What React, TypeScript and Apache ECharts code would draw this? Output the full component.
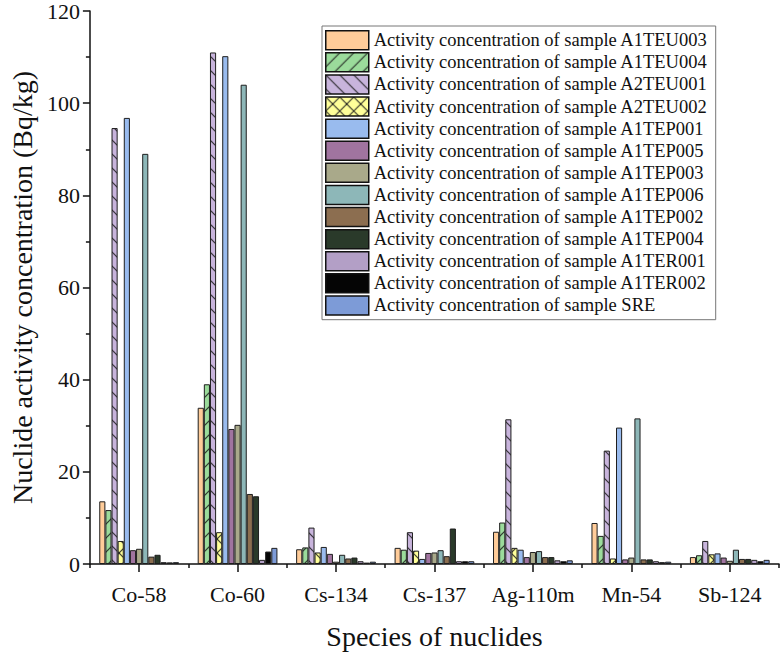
import React, { useEffect, useRef } from "react";
import * as echarts from "echarts";

const nuclides = ["Co-58", "Co-60", "Cs-134", "Cs-137", "Ag-110m", "Mn-54", "Sb-124"];

const sampleNames = [
  "A1TEU003", "A1TEU004", "A2TEU001", "A2TEU002", "A1TEP001", "A1TEP005", "A1TEP003",
  "A1TEP006", "A1TEP002", "A1TEP004", "A1TER001", "A1TER002", "SRE",
];

const A1TEU003 = [13.6, 33.9, 3.2, 3.5, 7.0, 8.9, 1.5];
const A1TEU004 = [11.7, 39.0, 3.6, 3.1, 9.0, 6.1, 1.9];
const A2TEU001 = [94.6, 111.0, 7.9, 6.9, 31.4, 24.6, 5.0];
const A2TEU002 = [5.0, 6.9, 2.5, 2.9, 3.5, 1.2, 2.1];
const A1TEP001 = [96.8, 110.2, 3.7, 1.1, 3.1, 29.6, 2.3];
const A1TEP005 = [3.0, 29.3, 2.2, 2.4, 1.5, 1.0, 1.4];
const A1TEP003 = [3.3, 30.2, 0.5, 2.5, 2.6, 1.4, 0.7];
const A1TEP006 = [89.0, 104.0, 2.0, 3.0, 2.8, 31.6, 3.1];
const A1TEP002 = [1.6, 15.2, 1.2, 1.7, 1.5, 1.0, 1.1];
const A1TEP004 = [2.0, 14.7, 1.4, 7.7, 1.5, 1.0, 1.1];
const A1TER001 = [0.4, 0.9, 0.6, 0.6, 0.8, 0.6, 0.9];
const A1TER002 = [0.35, 2.7, 0.3, 0.6, 0.6, 0.4, 0.6];
const SRE = [0.4, 3.5, 0.5, 0.6, 0.8, 0.5, 0.9];

const sampleValues = [
  A1TEU003, A1TEU004, A2TEU001, A2TEU002, A1TEP001, A1TEP005, A1TEP003,
  A1TEP006, A1TEP002, A1TEP004, A1TER001, A1TER002, SRE,
];

const yTicks = [0, 20, 40, 60, 80, 100, 120];

const colors = [
  "#FFCC99", "#9BDB9B", "#C8B4DC", "#FFFF99", "#99BBEE", "#A0749F", "#A9A98A",
  "#8DB7B8", "#8C6E50", "#2A3A2A", "#B39FC6", "#050505", "#7D9BD7",
];

// hatch type per sample: "" none, "/" forward, "\\" backward, "x" cross
const hatches = ["", "/", "\\", "x", "", "", "", "", "", "", "", "", ""];

const FONT = "'Liberation Serif', 'Times New Roman', serif";

function makePattern(bg: string, kind: string): any {
  const T = 14;
  const S = 3;
  const c = document.createElement("canvas");
  c.width = T * S;
  c.height = T * S;
  const ctx = c.getContext("2d")!;
  ctx.scale(S, S);
  ctx.fillStyle = bg;
  ctx.fillRect(0, 0, T, T);
  ctx.strokeStyle = "#1a1a1a";
  ctx.lineWidth = 1;
  const fwd = () => {
    for (const k of [0, T, 2 * T]) {
      ctx.beginPath();
      ctx.moveTo(k - T - 2, T + 2);
      ctx.lineTo(k + 2, -2);
      ctx.stroke();
    }
  };
  const back = () => {
    for (const k of [-T, 0, T]) {
      ctx.beginPath();
      ctx.moveTo(k - 2, -2);
      ctx.lineTo(k + T + 2, T + 2);
      ctx.stroke();
    }
  };
  if (kind === "/") fwd();
  if (kind === "\\") back();
  if (kind === "x") {
    fwd();
    back();
  }
  return { image: c, repeat: "repeat", imageWidth: T, imageHeight: T };
}

export default function App() {
  const ref = useRef<HTMLDivElement>(null);
  useEffect(() => {
    if (!ref.current) return;
    const chart = echarts.init(ref.current, null, { renderer: "svg" });
    const series = sampleNames.map((s, i) => {
      const fill = hatches[i] ? makePattern(colors[i], hatches[i]) : colors[i];
      return {
        name: "Activity concentration of sample " + s,
        type: "bar",
        xAxisIndex: 0,
        data: sampleValues[i],
        barGap: "0%",
        barCategoryGap: "19%",
        itemStyle: { color: fill, borderColor: "#1e1e1e", borderWidth: 1 },
      };
    });
    chart.setOption({
      animation: false,
      backgroundColor: "#ffffff",
      grid: { left: 88, right: 3, top: 11, bottom: 90, containLabel: false },
      legend: {
        orient: "vertical",
        left: 322,
        top: 26,
        padding: [4, 8, 4, 3],
        itemWidth: 43,
        itemHeight: 19,
        itemGap: 1.6,
        borderColor: "#777",
        borderWidth: 1,
        backgroundColor: "#fff",
        icon: "rect",
        itemStyle: { borderColor: "#111", borderWidth: 1.5 },
        textStyle: { fontFamily: FONT, fontSize: 18.5, color: "#111", padding: [0, 0, 0, 0] },
        data: sampleNames.map((s) => "Activity concentration of sample " + s),
      },
      xAxis: [
        {
          type: "category",
          data: nuclides,
          position: "bottom",
          name: "Species of nuclides",
          nameLocation: "middle",
          nameGap: 58,
          nameTextStyle: { fontFamily: FONT, fontSize: 28, color: "#111" },
          axisLine: { show: true, lineStyle: { color: "#111", width: 1.5 } },
          axisTick: { show: true, alignWithLabel: true, interval: 0, length: 8, lineStyle: { color: "#111", width: 1.5 } },
          axisLabel: { fontFamily: FONT, fontSize: 22, color: "#111", margin: 19, interval: 0 },
          splitLine: { show: false },
        },
        {
          type: "category",
          data: nuclides,
          position: "bottom",
          axisLine: { show: false },
          axisTick: { show: true, interval: 0, length: 4, lineStyle: { color: "#111", width: 1.5 } },
          axisLabel: { show: false, interval: 0 },
          splitLine: { show: false },
        },
      ],
      yAxis: {
        type: "value",
        min: yTicks[0],
        max: yTicks[yTicks.length - 1],
        interval: 20,
        name: "Nuclide activity concentration (Bq/kg)",
        nameLocation: "middle",
        nameGap: 51,
        nameTextStyle: { fontFamily: FONT, fontSize: 28, color: "#111" },
        axisLine: { show: true, lineStyle: { color: "#111", width: 1.5 } },
        axisTick: { show: true, length: 7, lineStyle: { color: "#111", width: 1.5 } },
        minorTick: { show: true, splitNumber: 2, length: 4, lineStyle: { color: "#111", width: 1.5 } },
        axisLabel: { fontFamily: FONT, fontSize: 22, color: "#111", margin: 10 },
        splitLine: { show: false },
      },
      series,
    });
    return () => chart.dispose();
  }, []);
  return (
    <div
      ref={ref}
      style={{ position: "absolute", left: 0, top: 0, width: 782, height: 655, background: "#fff" }}
    />
  );
}
